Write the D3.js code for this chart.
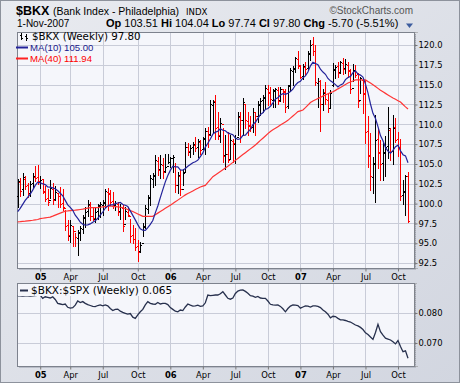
<!DOCTYPE html>
<html>
<head>
<meta charset="utf-8">
<script src="https://cdn.jsdelivr.net/npm/d3@7"></script>
<style>
body { margin: 0; background: #fff; }
svg { display: block; }
text { font-family: "DejaVu Sans", sans-serif; }
.ax text { font-family: "DejaVu Sans", sans-serif; font-size: 8.4px; fill: #000; }
.ax line { stroke: #777; }
.ax .domain { stroke: #888; stroke-dasharray: 1,1; }
</style>
</head>
<body>
<script>
// weekly bars, first week ending Fri 5-Nov-2004, last 2-Nov-2007
var opens = [101.0,102.7,101.8,103.1,102.3,101.4,102.6,103.4,103.3,102.7,103.1,101.5,100.7,100.4,101.9,100.6,101.4,101.0,100.1,99.4,
  97.3,95.9,97.2,96.5,95.7,96.4,96.8,98.3,99.1,99.8,98.5,98.1,99.1,99.7,99.8,100.2,101.5,101.3,100.3,99.8,
  100.0,99.1,99.5,97.4,99.0,98.5,96.0,95.5,94.6,94.0,95.0,97.1,99.3,100.8,103.1,103.6,105.4,104.4,104.9,104.1,
  104.7,105.2,105.7,104.8,102.4,103.5,101.9,104.0,107.1,106.5,107.1,107.4,107.1,107.8,106.9,108.3,109.1,108.8,112.4,112.9,
  109.6,108.5,110.0,106.1,106.3,105.6,107.9,107.5,108.4,110.9,110.6,112.6,110.4,109.9,109.6,111.5,111.1,112.4,113.1,113.3,
  114.5,114.1,113.1,114.2,114.3,113.1,114.4,114.1,112.3,114.9,116.7,117.1,118.2,117.4,116.1,117.2,117.1,118.9,120.1,119.2,
  115.2,115.4,112.6,114.1,113.1,112.1,114.9,116.9,117.3,116.6,117.7,117.1,117.5,116.7,114.6,116.7,116.3,113.1,115.6,113.8,
  109.2,106.1,103.4,105.1,108.1,106.4,105.1,106.4,107.3,109.3,106.6,109.6,108.1,107.1,101.1,101.6,103.51];
var highs = [103.1,103.2,103.8,103.5,102.6,102.9,103.9,104.7,104.9,103.5,103.0,102.2,101.8,103.0,102.6,102.2,101.3,102.1,101.9,99.2,
  97.9,97.9,97.1,96.3,96.7,97.2,98.6,99.6,100.5,100.2,99.6,99.4,100.0,100.2,100.5,101.9,102.0,101.7,101.5,100.3,
  100.2,100.0,99.8,99.6,99.6,98.1,97.3,96.9,95.4,95.2,97.5,99.8,101.1,103.6,103.8,106.1,105.9,106.1,105.7,106.3,
  106.3,105.9,106.1,105.1,104.0,104.2,104.4,107.8,107.6,107.4,107.8,108.4,108.2,108.0,108.4,109.5,109.6,113.1,113.1,113.7,
  111.6,110.8,109.5,108.6,109.0,108.6,108.2,108.6,111.6,111.6,113.3,112.4,111.6,111.0,112.0,111.4,112.9,113.3,113.7,114.9,
  114.9,114.7,114.5,114.6,114.7,114.7,114.5,114.5,115.0,117.1,117.3,118.5,119.2,117.5,117.6,117.8,119.3,120.6,121.0,120.0,
  115.8,115.6,114.5,115.3,113.9,114.3,117.7,117.5,117.8,118.0,118.3,118.2,117.8,117.0,117.6,117.5,116.5,116.0,115.6,115.6,
  111.0,108.9,105.9,111.2,109.5,108.0,107.6,108.5,112.2,109.5,111.2,110.8,109.0,108.2,103.0,103.6,104.04];
var lows = [99.6,101.0,101.1,101.8,100.8,101.0,102.0,102.8,102.5,102.0,101.3,100.3,99.8,100.7,99.9,100.5,99.6,99.6,99.2,96.7,
  95.4,95.1,94.6,94.6,93.5,95.4,96.3,97.1,98.4,97.9,97.9,97.7,98.1,98.3,98.6,99.6,99.2,99.8,99.4,99.2,
  98.6,98.1,96.5,98.1,98.4,95.2,95.0,94.1,92.7,93.9,95.9,96.9,98.8,99.8,102.1,102.3,103.6,103.2,103.2,104.0,
  105.1,104.6,104.0,101.5,101.3,101.1,102.4,104.0,106.1,105.9,106.3,106.6,105.9,106.3,107.0,106.3,107.2,108.6,109.0,108.2,
  108.2,107.8,105.3,104.4,105.2,105.7,105.3,105.1,108.6,107.8,108.6,109.5,108.6,109.1,109.0,108.6,110.3,111.2,111.6,112.0,
  112.4,112.5,112.2,112.2,112.6,113.0,112.8,111.6,112.0,114.2,114.9,116.6,117.1,115.8,115.7,116.2,116.8,118.1,118.7,114.9,
  112.2,109.2,111.8,112.6,111.6,112.0,114.8,115.8,116.0,116.5,116.4,116.5,116.0,114.0,115.4,116.0,112.2,114.0,111.4,107.6,
  104.6,101.7,101.3,100.2,104.5,103.0,103.0,103.5,105.7,105.5,105.0,107.8,106.0,100.5,100.0,98.6,97.74];
var closes = [102.8,101.6,103.3,102.2,101.3,102.5,103.5,103.2,102.8,103.0,101.6,100.6,100.2,102.0,100.4,101.5,101.0,100.0,99.6,97.2,
  96.0,97.3,96.6,95.8,96.3,96.9,98.2,99.0,99.9,98.4,98.2,99.0,99.8,99.9,100.1,101.6,101.2,100.2,99.9,100.1,
  99.0,99.6,97.2,99.1,98.6,95.9,95.6,94.5,93.9,94.8,97.2,99.4,100.7,103.2,103.5,105.5,104.3,105.0,104.0,104.6,
  105.3,105.8,105.9,102.3,103.6,101.8,103.9,107.2,106.6,107.0,107.5,107.0,107.9,106.8,108.2,109.2,108.7,112.5,112.8,109.5,
  108.6,110.2,106.0,106.2,105.5,108.0,107.6,108.3,111.0,110.5,112.8,110.5,109.8,109.5,111.6,111.0,112.5,113.0,113.4,114.6,
  114.0,113.2,114.3,114.4,113.0,114.5,114.2,112.2,114.8,116.8,117.0,118.3,117.5,116.0,117.3,117.0,119.0,120.0,119.3,115.3,
  115.5,112.5,114.0,113.2,112.0,114.0,117.0,117.2,116.5,117.8,117.0,117.6,116.8,114.5,116.8,116.2,113.0,115.8,114.0,109.0,
  106.0,103.5,105.0,108.0,106.5,105.0,106.5,107.2,109.5,106.5,109.5,108.0,107.0,101.0,101.5,103.5,97.80];
// first nine MA(10) values come from weeks before the chart starts
var ma10Start = [99.0,99.4,99.9,100.4,100.8,101.2,101.7,102.3,102.7];
var ma40 = [97.7,97.72,97.75,97.78,97.82,97.86,97.9,97.95,98.0,98.1,
  98.15,98.2,98.25,98.3,98.42,98.55,98.68,98.8,98.92,99.05,
  99.08,99.12,99.15,99.18,99.22,99.26,99.3,99.37,99.44,99.5,
  99.5,99.5,99.5,99.54,99.58,99.62,99.66,99.7,99.66,99.62,
  99.58,99.54,99.5,99.38,99.25,99.12,99.0,98.85,98.7,98.55,
  98.4,98.4,98.4,98.4,98.4,98.6,98.8,99.0,99.2,99.4,
  99.6,99.8,100.0,100.22,100.44,100.66,100.88,101.1,101.27,101.43,
  101.6,101.77,101.93,102.1,102.2,102.3,102.67,103.03,103.4,103.62,
  103.84,104.06,104.28,104.5,104.7,104.95,105.2,105.45,105.7,105.94,
  106.18,106.42,106.66,106.9,107.15,107.4,107.68,107.97,108.25,108.53,
  108.82,109.1,109.3,109.5,109.7,109.9,110.1,110.3,110.5,110.78,
  111.05,111.32,111.6,111.7,111.8,112.1,112.42,112.75,112.95,113.1,
  113.25,113.4,113.55,113.7,113.85,114.0,114.1,114.28,114.47,114.65,
  114.83,115.02,115.2,115.33,115.47,115.6,115.6,115.6,115.6,115.6,
  115.4,115.2,115.0,114.77,114.53,114.3,114.1,113.9,113.7,113.5,
  113.32,113.15,112.98,112.8,112.5,112.2,111.94];
var ratio = [0.0857,0.0857,0.0856,0.0857,0.0857,0.0856,0.0857,0.0858,0.0859,0.0860,
  0.0849,0.0854,0.0852,0.0850,0.0854,0.0845,0.0832,0.0830,0.0828,0.0830,
  0.0819,0.0816,0.0818,0.0826,0.0840,0.0835,0.0838,0.0832,0.0828,0.0825,
  0.0822,0.0821,0.0825,0.0827,0.0824,0.0827,0.0824,0.0815,0.0808,0.0812,
  0.0813,0.0806,0.0802,0.0799,0.0796,0.0798,0.0786,0.0782,0.0794,0.0804,
  0.0812,0.0827,0.0838,0.0832,0.0830,0.0829,0.0835,0.0830,0.0832,0.0832,
  0.0828,0.0818,0.0812,0.0806,0.0804,0.0810,0.0808,0.0820,0.0830,0.0826,
  0.0823,0.0824,0.0826,0.0822,0.0824,0.0834,0.0860,0.0858,0.0859,0.0860,
  0.0860,0.0864,0.0871,0.0860,0.0849,0.0846,0.0850,0.0865,0.0873,0.0876,
  0.0877,0.0872,0.0866,0.0858,0.0856,0.0852,0.0855,0.0850,0.0849,0.0849,
  0.0840,0.0829,0.0827,0.0826,0.0827,0.0822,0.0814,0.0804,0.0815,0.0823,
  0.0827,0.0826,0.0825,0.0816,0.0820,0.0824,0.0823,0.0820,0.0824,0.0824,
  0.0822,0.0818,0.0810,0.0804,0.0796,0.0784,0.0789,0.0788,0.0782,0.0777,
  0.0777,0.0775,0.0772,0.0770,0.0765,0.0760,0.0757,0.0752,0.0745,0.0734,
  0.0728,0.0720,0.0712,0.0735,0.0762,0.0738,0.0726,0.0716,0.0713,0.0710,
  0.0704,0.0697,0.0708,0.0688,0.0671,0.0674,0.0649];
var monthNames = ["Jan","Feb","Mar","Apr","May","Jun","Jul","Aug","Sep","Oct","Nov","Dec"];
var priceTicks = [92.5,95,97.5,100,102.5,105,107.5,110,112.5,115,117.5,120];
var ratioTicks = [0.070,0.080];

var n = closes.length;
var dates = d3.range(n).map(function(i){ return d3.timeDay.offset(new Date(2004,10,5), 7*i); });
var ma10 = closes.map(function(c,i){ return i < 9 ? ma10Start[i] : d3.mean(closes.slice(i-9,i+1)); });

// first bar of each quarter
var qIdx = d3.range(1,n).filter(function(i){
  var m = dates[i].getMonth();
  return m !== dates[i-1].getMonth() && m % 3 === 0;
});
function qLabel(i){
  var d = dates[i];
  return d.getMonth() === 0 ? d3.timeFormat("%y")(d) : monthNames[d.getMonth()];
}

var W = 460, H = 383;
var P1 = {l:17, r:414, t:32, b:268};
var P2 = {l:17, r:414, t:283, b:366};

var svg = d3.select("body").append("svg").attr("width",W).attr("height",H);
var defs = svg.append("defs");
var g = defs.append("linearGradient").attr("id","bg").attr("x1",0).attr("y1",0).attr("x2",1).attr("y2",1);
g.append("stop").attr("offset","0%").attr("stop-color","#e9ebf0");
g.append("stop").attr("offset","100%").attr("stop-color","#d2d6e0");

svg.append("rect").attr("x",0.5).attr("y",0.5).attr("width",W-1).attr("height",H-1)
  .attr("fill","url(#bg)").attr("stroke","#8d929c");

var x = d3.scaleLinear().domain([0,n-1]).range([17.7,408]);
var y = d3.scaleLinear().domain([91.88,121.64]).range([P1.b,P1.t]);
var y2 = d3.scaleLinear().domain([0.06233,0.090]).range([P2.b,P2.t]);
function px(i){ return Math.round(x(i)) + 0.5; }

// ---- header
var hd = svg.append("g");
hd.append("text").attr("x",16).attr("y",15).style("font-family","Liberation Sans").style("font-size","12.5px")
  .style("font-weight","bold").text("$BKX");
hd.append("text").attr("x",53).attr("y",15).style("font-family","Liberation Sans").style("font-size","10.5px")
  .text("(Bank Index - Philadelphia)");
hd.append("text").attr("x",186).attr("y",15).style("font-size","8.6px").text("INDX");
hd.append("text").attr("x",413).attr("y",14).attr("text-anchor","end").attr("fill","#555")
  .style("font-family","Liberation Sans").style("font-size","10px").text("\u00a9StockCharts.com");
hd.append("text").attr("x",17).attr("y",27).style("font-family","Liberation Sans").style("font-size","10px").text("1-Nov-2007");
var q = hd.append("text").attr("x",106).attr("y",27).style("font-family","Liberation Sans").style("font-size","11px");
[["Op",1],[" 103.51 ",0],["Hi",1],[" 104.04 ",0],["Lo",1],[" 97.74 ",0],["Cl",1],[" 97.80 ",0],["Chg",1],[" -5.70 (-5.51%)",0]]
  .forEach(function(p){ q.append("tspan").style("font-weight",p[1]?"bold":"normal").text(p[0]); });
hd.append("path").attr("d","M406,23.5H413L409.5,28Z").attr("fill","#3c5c9e");

// ---- panels
function panel(P){
  svg.append("rect").attr("x",P.l+2).attr("y",P.t+2).attr("width",P.r-P.l).attr("height",P.b-P.t).attr("fill","#b9bdc8");
  svg.append("rect").attr("x",P.l+0.5).attr("y",P.t+0.5).attr("width",P.r-P.l).attr("height",P.b-P.t)
    .attr("fill","#f5f6fb").attr("stroke","#7d828d");
}
panel(P1); panel(P2);

function vgrid(P){
  svg.append("g").selectAll("line").data(qIdx).join("line")
    .attr("x1",px).attr("x2",px).attr("y1",P.t+1).attr("y2",P.b)
    .attr("stroke","#c9ccd8").attr("shape-rendering","crispEdges");
}
vgrid(P1); vgrid(P2);
svg.append("g").selectAll("line").data(priceTicks).join("line")
  .attr("x1",P1.l+1).attr("x2",P1.r).attr("y1",function(d){ return Math.round(y(d))+0.5; })
  .attr("y2",function(d){ return Math.round(y(d))+0.5; })
  .attr("stroke","#c9ccd8").attr("shape-rendering","crispEdges");
svg.append("g").selectAll("line").data(ratioTicks).join("line")
  .attr("x1",P2.l+1).attr("x2",P2.r).attr("y1",function(d){ return Math.round(y2(d))+0.5; })
  .attr("y2",function(d){ return Math.round(y2(d))+0.5; })
  .attr("stroke","#c9ccd8").attr("shape-rendering","crispEdges");

// ---- OHLC bars
svg.append("g").attr("shape-rendering","crispEdges").selectAll("path").data(closes).join("path")
  .attr("fill","none")
  .attr("stroke",function(c,i){ return i > 0 && c < closes[i-1] ? "#ff0000" : "#000000"; })
  .attr("d",function(c,i){
    var xi = px(i), yo = Math.round(y(opens[i]))+0.5, yc = Math.round(y(c))+0.5;
    return "M"+xi+","+Math.round(y(highs[i]))+"V"+(Math.round(y(lows[i]))+1)+
      "M"+(xi-1.5)+","+yo+"H"+xi+"M"+xi+","+yc+"H"+(xi+1.5);
  });

var line = d3.line().x(function(d,i){ return x(i); });
svg.append("path").datum(ma40).attr("fill","none").attr("stroke","#ff3434").attr("stroke-width",1.2)
  .attr("d",line.y(function(d){ return y(d); }));
svg.append("path").datum(ma10).attr("fill","none").attr("stroke","#22229a").attr("stroke-width",1.2)
  .attr("d",line.y(function(d){ return y(d); }));

svg.append("path").datum(ratio).attr("fill","none").attr("stroke","#27304d").attr("stroke-width",1.3)
  .attr("d",d3.line().x(function(d,i){ return x(i); }).y(function(d){ return y2(d); }));

// ---- axes
svg.append("g").attr("class","ax").attr("transform","translate("+(P1.r+0.5)+",0)")
  .call(d3.axisRight(y).tickValues(priceTicks).tickFormat(d3.format(".1f")).tickSize(3).tickPadding(1));
svg.append("g").attr("class","ax").attr("transform","translate("+(P2.r+0.5)+",0)")
  .call(d3.axisRight(y2).tickValues(ratioTicks).tickFormat(d3.format(".3f")).tickSize(3).tickPadding(1));
[P1,P2].forEach(function(P){
  var a = svg.append("g").attr("class","ax").attr("transform","translate(0,"+(P.b+0.5)+")")
    .call(d3.axisBottom(x).tickValues(qIdx).tickFormat(qLabel).tickSize(3).tickPadding(3));
  a.select(".domain").remove();
  a.selectAll(".tick line").attr("stroke","#999");
  a.selectAll(".tick text").style("font-weight",function(i){ return dates[i].getMonth()===0 ? "bold" : "normal"; });
});

// ---- legends
var lg = svg.append("g");
lg.append("path").attr("fill","none").attr("stroke","#000").attr("shape-rendering","crispEdges")
  .attr("d","M21.5,33V40M20,35H21.5M21.5,38H23M26.5,34V41M25,36H26.5M26.5,38H28");
lg.append("text").attr("x",32).attr("y",40).style("font-size","10.3px").text("$BKX (Weekly) 97.80");
lg.append("line").attr("x1",16).attr("x2",28).attr("y1",47.5).attr("y2",47.5).attr("stroke","#22229a").attr("stroke-width",2);
lg.append("text").attr("x",30).attr("y",51).attr("fill","#1a1a8c").style("font-family","Liberation Sans")
  .style("font-size","9.6px").text("MA(10) 105.00");
lg.append("line").attr("x1",16).attr("x2",28).attr("y1",58.5).attr("y2",58.5).attr("stroke","#ff2020").attr("stroke-width",2);
lg.append("text").attr("x",30).attr("y",62).attr("fill","#ff0000").style("font-family","Liberation Sans")
  .style("font-size","9.6px").text("MA(40) 111.94");

lg.append("rect").attr("x",P2.l+1).attr("y",P2.t+1).attr("width",170).attr("height",12).attr("fill","#f5f6fb");
lg.append("line").attr("x1",20).attr("x2",28).attr("y1",290.5).attr("y2",290.5).attr("stroke","#27304d").attr("stroke-width",2);
lg.append("text").attr("x",31).attr("y",294).style("font-size","10.5px").text("$BKX:$SPX (Weekly) 0.065");
</script>
</body>
</html>
